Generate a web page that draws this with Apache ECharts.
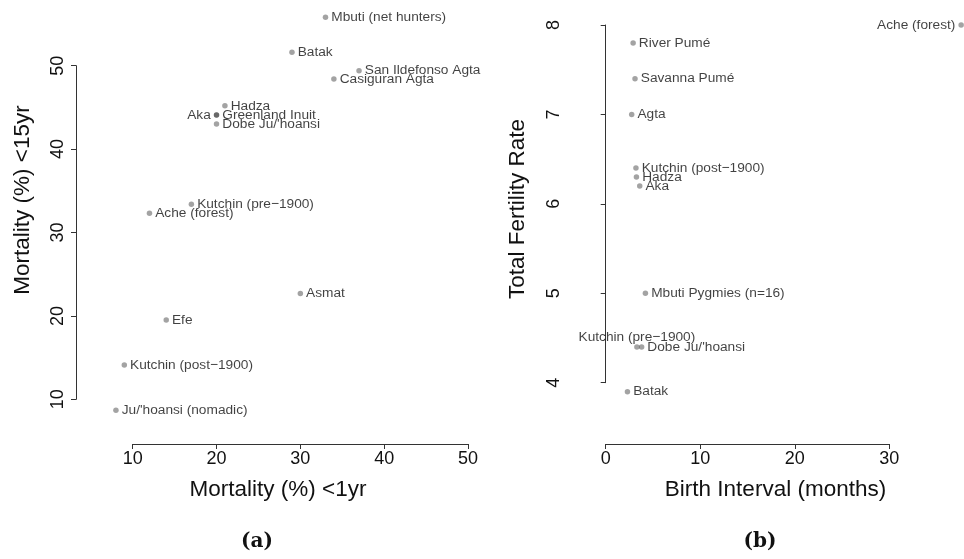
<!DOCTYPE html>
<html><head><meta charset="utf-8">
<script src="https://cdn.jsdelivr.net/npm/echarts@6/dist/echarts.min.js"></script>
<style>html,body{margin:0;padding:0;background:#fff}#c{width:964px;height:559px}</style>
</head><body><div id="c"></div>
<script>
// Panel (a): mortality
const namesA = ["Mbuti (net hunters)", "Batak", "San Ildefonso Agta", "Casiguran Agta", "Hadza", "Aka", "Greenland Inuit", "Dobe Ju/'hoansi", "Kutchin (pre\u22121900)", "Ache (forest)", "Asmat", "Efe", "Kutchin (post\u22121900)", "Ju/'hoansi (nomadic)"];
const mort1yr = [33, 29, 37, 34, 21, 20, 20, 20, 17, 12, 30, 14, 9, 8];
const mort15yr = [55.8, 51.6, 49.4, 48.4, 45.2, 44.1, 44.1, 43.0, 33.4, 32.3, 22.7, 19.5, 14.1, 8.7];
const labelPosA = ["right", "right", "right", "right", "right", "left", "right", "right", "right", "right", "right", "right", "right", "right"];
const ticksA_x = [10, 20, 30, 40, 50];
const ticksA_y = [10, 20, 30, 40, 50];

// Panel (b): fertility
const namesB = ["Ache (forest)", "River Pum\u00e9", "Savanna Pum\u00e9", "Agta", "Kutchin (post\u22121900)", "Hadza", "Aka", "Mbuti Pygmies (n=16)", "Kutchin (pre\u22121900)", "Dobe Ju/'hoansi", "Batak"];
const birthInterval = [37.6, 2.9, 3.1, 2.75, 3.2, 3.25, 3.6, 4.2, 3.3, 3.8, 2.3];
const tfr = [8.0, 7.8, 7.4, 7.0, 6.4, 6.3, 6.2, 5.0, 4.4, 4.4, 3.9];
const labelPosB = ["left", "right", "right", "right", "right", "right", "right", "right", "top", "right", "right"];
const ticksB_x = [0, 10, 20, 30];
const ticksB_y = [4, 5, 6, 7, 8];

const FONT = "'Liberation Sans', Arial, sans-serif";
const AX = '#333';

function mk(names, xs, ys, pos) {
  return names.map((n, i) => ({
    value: [xs[i], ys[i]],
    name: n,
    label: { position: pos[i], distance: pos[i] === 'top' ? 0 : 3 }
  }));
}

function axisCommon(offset, rotate) {
  return {
    type: 'value',
    offset: offset,
    splitLine: { show: false },
    axisLine: { show: true, lineStyle: { color: AX, width: 1 } },
    axisTick: { show: true, length: 5, lineStyle: { color: AX } },
    axisLabel: { color: '#111', fontSize: 18, fontFamily: FONT, margin: rotate ? 9 : 6, rotate: rotate ? 90 : 0, showMinLabel: true, showMaxLabel: true }
  };
}

const chart = echarts.init(document.getElementById('c'), null, { renderer: 'canvas' });
const TITLE = '22.5px ' + FONT;
const PANEL = 'bold 20px "DejaVu Serif", "Liberation Serif", serif';
const option = {
  animation: false,
  backgroundColor: '#fff',
  grid: [
    { left: 132.7, top: 65.7, width: 335.3, height: 333.6 },
    { left: 605.7, top: 25, width: 283.6, height: 357.7 }
  ],
  xAxis: [
    Object.assign(axisCommon(44.7, false), { gridIndex: 0, min: ticksA_x[0], max: ticksA_x[ticksA_x.length - 1], interval: 10 }),
    Object.assign(axisCommon(61.3, false), { gridIndex: 1, min: ticksB_x[0], max: ticksB_x[ticksB_x.length - 1], interval: 10 })
  ],
  yAxis: [
    Object.assign(axisCommon(56.7, true), { gridIndex: 0, min: ticksA_y[0], max: ticksA_y[ticksA_y.length - 1], interval: 10 }),
    Object.assign(axisCommon(34, true), { gridIndex: 1, min: ticksB_y[0], max: ticksB_y[ticksB_y.length - 1], interval: 1 })
  ],
  series: [
    {
      type: 'scatter', xAxisIndex: 0, yAxisIndex: 0, clip: false,
      symbolSize: 5.5,
      itemStyle: { color: 'rgba(0,0,0,0.45)' },
      label: { show: true, formatter: p => p.name, color: '#111', fontSize: 13.7, fontFamily: FONT },
      data: mk(namesA, mort1yr, mort15yr, labelPosA)
    },
    {
      type: 'scatter', xAxisIndex: 1, yAxisIndex: 1, clip: false,
      symbolSize: 5.5,
      itemStyle: { color: 'rgba(0,0,0,0.45)' },
      label: { show: true, formatter: p => p.name, color: '#111', fontSize: 13.7, fontFamily: FONT },
      data: mk(namesB, birthInterval, tfr, labelPosB)
    }
  ],
  graphic: [
    { type: 'text', x: 278, y: 490, style: { text: 'Mortality (%) <1yr', font: TITLE, fill: '#111', textAlign: 'center', textVerticalAlign: 'middle' } },
    { type: 'text', x: 23, y: 200, rotation: Math.PI / 2, style: { text: 'Mortality (%) <15yr', font: TITLE, fill: '#111', textAlign: 'center', textVerticalAlign: 'middle' } },
    { type: 'text', x: 775.5, y: 490, style: { text: 'Birth Interval (months)', font: TITLE, fill: '#111', textAlign: 'center', textVerticalAlign: 'middle' } },
    { type: 'text', x: 518, y: 209, rotation: Math.PI / 2, style: { text: 'Total Fertility Rate', font: TITLE, fill: '#111', textAlign: 'center', textVerticalAlign: 'middle' } },
    { type: 'text', x: 257, y: 542, style: { text: '(a)', font: PANEL, fill: '#111', textAlign: 'center', textVerticalAlign: 'middle' } },
    { type: 'text', x: 760, y: 542, style: { text: '(b)', font: PANEL, fill: '#111', textAlign: 'center', textVerticalAlign: 'middle' } }
  ]
};
chart.setOption(option);
</script></body></html>
